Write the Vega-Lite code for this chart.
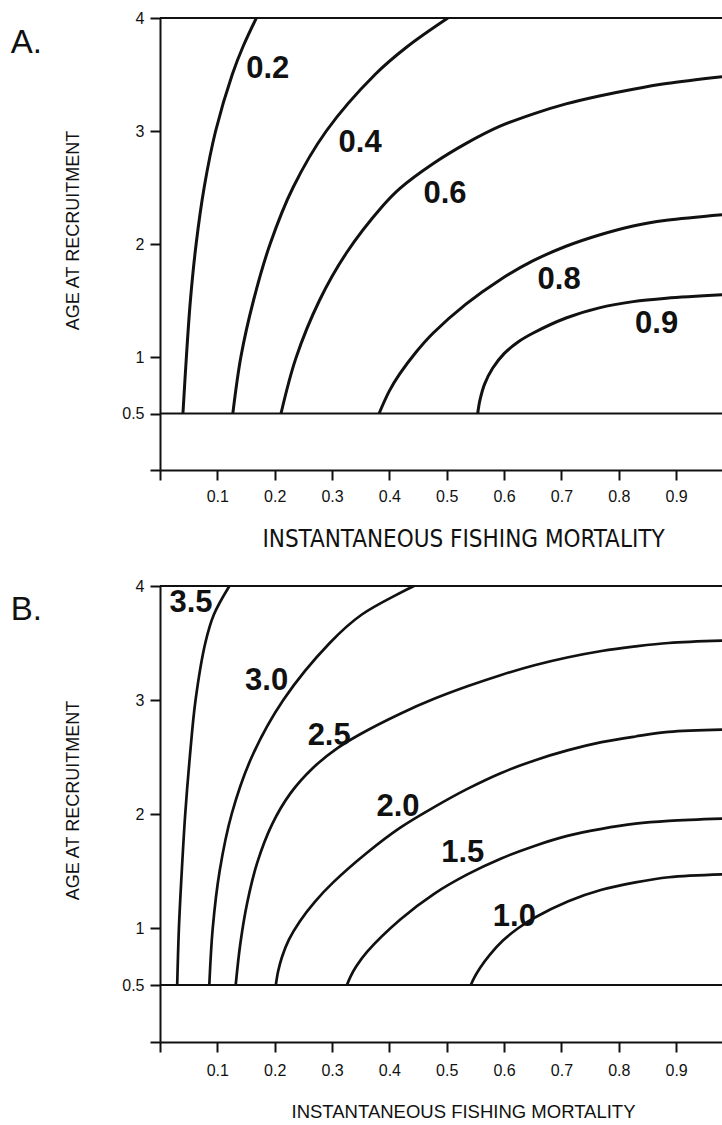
{
  "$schema": "https://vega.github.io/schema/vega-lite/v6.json",
  "background": "white",
  "padding": {"left": 10, "top": 10, "right": 0, "bottom": 0},
  "spacing": 116,
  "bounds": "flush",
  "config": {
    "view": {"stroke": null},
    "axis": {
      "domainColor": "#111", "domainWidth": 2,
      "tickColor": "#111", "tickWidth": 2, "tickSize": 10,
      "labelColor": "#111", "labelFont": "Liberation Sans", "labelFontSize": 16,
      "labelFlush": false, "labelOverlap": false, "grid": false,
      "titleColor": "#111", "titleFontWeight": "normal"
    }
  },
  "datasets": {
    "rules": [{"age": 4}, {"age": 0.5}],
    "a_curves": [
      {"level": "0.2", "f": 0.040, "age": 0.5}, {"level": "0.2", "f": 0.046, "age": 1.0}, {"level": "0.2", "f": 0.053, "age": 1.5}, {"level": "0.2", "f": 0.063, "age": 2.0}, {"level": "0.2", "f": 0.077, "age": 2.5}, {"level": "0.2", "f": 0.097, "age": 3.0}, {"level": "0.2", "f": 0.126, "age": 3.5}, {"level": "0.2", "f": 0.145, "age": 3.75}, {"level": "0.2", "f": 0.168, "age": 4.0},
      {"level": "0.4", "f": 0.127, "age": 0.5}, {"level": "0.4", "f": 0.141, "age": 1.0}, {"level": "0.4", "f": 0.163, "age": 1.5}, {"level": "0.4", "f": 0.192, "age": 2.0}, {"level": "0.4", "f": 0.232, "age": 2.5}, {"level": "0.4", "f": 0.290, "age": 3.0}, {"level": "0.4", "f": 0.375, "age": 3.5}, {"level": "0.4", "f": 0.432, "age": 3.75}, {"level": "0.4", "f": 0.502, "age": 4.0},
      {"level": "0.6", "f": 0.211, "age": 0.5}, {"level": "0.6", "f": 0.237, "age": 0.99}, {"level": "0.6", "f": 0.278, "age": 1.5}, {"level": "0.6", "f": 0.325, "age": 1.92}, {"level": "0.6", "f": 0.389, "age": 2.34}, {"level": "0.6", "f": 0.418, "age": 2.49}, {"level": "0.6", "f": 0.476, "age": 2.71}, {"level": "0.6", "f": 0.534, "age": 2.89}, {"level": "0.6", "f": 0.592, "age": 3.04}, {"level": "0.6", "f": 0.650, "age": 3.15}, {"level": "0.6", "f": 0.708, "age": 3.24}, {"level": "0.6", "f": 0.766, "age": 3.31}, {"level": "0.6", "f": 0.825, "age": 3.37}, {"level": "0.6", "f": 0.883, "age": 3.42}, {"level": "0.6", "f": 0.980, "age": 3.48},
      {"level": "0.8", "f": 0.382, "age": 0.5}, {"level": "0.8", "f": 0.400, "age": 0.70}, {"level": "0.8", "f": 0.418, "age": 0.85}, {"level": "0.8", "f": 0.446, "age": 1.04}, {"level": "0.8", "f": 0.476, "age": 1.21}, {"level": "0.8", "f": 0.534, "age": 1.47}, {"level": "0.8", "f": 0.592, "age": 1.68}, {"level": "0.8", "f": 0.650, "age": 1.85}, {"level": "0.8", "f": 0.708, "age": 1.98}, {"level": "0.8", "f": 0.766, "age": 2.08}, {"level": "0.8", "f": 0.825, "age": 2.16}, {"level": "0.8", "f": 0.883, "age": 2.21}, {"level": "0.8", "f": 0.980, "age": 2.26},
      {"level": "0.9", "f": 0.554, "age": 0.5}, {"level": "0.9", "f": 0.558, "age": 0.62}, {"level": "0.9", "f": 0.566, "age": 0.76}, {"level": "0.9", "f": 0.580, "age": 0.90}, {"level": "0.9", "f": 0.600, "age": 1.03}, {"level": "0.9", "f": 0.625, "age": 1.135}, {"level": "0.9", "f": 0.650, "age": 1.21}, {"level": "0.9", "f": 0.708, "age": 1.345}, {"level": "0.9", "f": 0.766, "age": 1.435}, {"level": "0.9", "f": 0.825, "age": 1.49}, {"level": "0.9", "f": 0.883, "age": 1.52}, {"level": "0.9", "f": 0.980, "age": 1.55}
    ],
    "a_labels": [
      {"label": "0.2", "f": 0.188, "age": 3.55},
      {"label": "0.4", "f": 0.349, "age": 2.89},
      {"label": "0.6", "f": 0.497, "age": 2.44},
      {"label": "0.8", "f": 0.696, "age": 1.68},
      {"label": "0.9", "f": 0.866, "age": 1.29}
    ],
    "b_curves": [
      {"level": "3.5", "f": 0.030, "age": 0.5}, {"level": "3.5", "f": 0.033, "age": 1.0}, {"level": "3.5", "f": 0.038, "age": 1.5}, {"level": "3.5", "f": 0.044, "age": 2.0}, {"level": "3.5", "f": 0.052, "age": 2.5}, {"level": "3.5", "f": 0.062, "age": 3.0}, {"level": "3.5", "f": 0.079, "age": 3.5}, {"level": "3.5", "f": 0.094, "age": 3.75}, {"level": "3.5", "f": 0.121, "age": 4.0},
      {"level": "3.0", "f": 0.086, "age": 0.5}, {"level": "3.0", "f": 0.092, "age": 1.0}, {"level": "3.0", "f": 0.104, "age": 1.5}, {"level": "3.0", "f": 0.125, "age": 2.0}, {"level": "3.0", "f": 0.160, "age": 2.5}, {"level": "3.0", "f": 0.215, "age": 3.0}, {"level": "3.0", "f": 0.296, "age": 3.5}, {"level": "3.0", "f": 0.352, "age": 3.75}, {"level": "3.0", "f": 0.443, "age": 4.0},
      {"level": "2.5", "f": 0.132, "age": 0.5}, {"level": "2.5", "f": 0.140, "age": 0.86}, {"level": "2.5", "f": 0.152, "age": 1.22}, {"level": "2.5", "f": 0.170, "age": 1.58}, {"level": "2.5", "f": 0.195, "age": 1.905}, {"level": "2.5", "f": 0.228, "age": 2.185}, {"level": "2.5", "f": 0.268, "age": 2.41}, {"level": "2.5", "f": 0.310, "age": 2.58}, {"level": "2.5", "f": 0.349, "age": 2.70}, {"level": "2.5", "f": 0.419, "age": 2.88}, {"level": "2.5", "f": 0.478, "age": 3.01}, {"level": "2.5", "f": 0.536, "age": 3.12}, {"level": "2.5", "f": 0.595, "age": 3.22}, {"level": "2.5", "f": 0.653, "age": 3.305}, {"level": "2.5", "f": 0.712, "age": 3.375}, {"level": "2.5", "f": 0.770, "age": 3.43}, {"level": "2.5", "f": 0.829, "age": 3.47}, {"level": "2.5", "f": 0.887, "age": 3.50}, {"level": "2.5", "f": 0.980, "age": 3.52},
      {"level": "2.0", "f": 0.202, "age": 0.5}, {"level": "2.0", "f": 0.206, "age": 0.62}, {"level": "2.0", "f": 0.213, "age": 0.75}, {"level": "2.0", "f": 0.225, "age": 0.90}, {"level": "2.0", "f": 0.244, "age": 1.06}, {"level": "2.0", "f": 0.270, "age": 1.23}, {"level": "2.0", "f": 0.302, "age": 1.40}, {"level": "2.0", "f": 0.361, "age": 1.66}, {"level": "2.0", "f": 0.419, "age": 1.88}, {"level": "2.0", "f": 0.478, "age": 2.06}, {"level": "2.0", "f": 0.536, "age": 2.22}, {"level": "2.0", "f": 0.595, "age": 2.36}, {"level": "2.0", "f": 0.653, "age": 2.47}, {"level": "2.0", "f": 0.712, "age": 2.56}, {"level": "2.0", "f": 0.770, "age": 2.63}, {"level": "2.0", "f": 0.829, "age": 2.68}, {"level": "2.0", "f": 0.887, "age": 2.72}, {"level": "2.0", "f": 0.980, "age": 2.74},
      {"level": "1.5", "f": 0.326, "age": 0.5}, {"level": "1.5", "f": 0.332, "age": 0.572}, {"level": "1.5", "f": 0.342, "age": 0.662}, {"level": "1.5", "f": 0.361, "age": 0.791}, {"level": "1.5", "f": 0.419, "age": 1.075}, {"level": "1.5", "f": 0.478, "age": 1.30}, {"level": "1.5", "f": 0.536, "age": 1.47}, {"level": "1.5", "f": 0.595, "age": 1.61}, {"level": "1.5", "f": 0.653, "age": 1.72}, {"level": "1.5", "f": 0.712, "age": 1.81}, {"level": "1.5", "f": 0.770, "age": 1.87}, {"level": "1.5", "f": 0.829, "age": 1.915}, {"level": "1.5", "f": 0.887, "age": 1.94}, {"level": "1.5", "f": 0.980, "age": 1.96},
      {"level": "1.0", "f": 0.542, "age": 0.5}, {"level": "1.0", "f": 0.548, "age": 0.565}, {"level": "1.0", "f": 0.558, "age": 0.65}, {"level": "1.0", "f": 0.575, "age": 0.765}, {"level": "1.0", "f": 0.598, "age": 0.89}, {"level": "1.0", "f": 0.625, "age": 1.0}, {"level": "1.0", "f": 0.653, "age": 1.09}, {"level": "1.0", "f": 0.712, "age": 1.235}, {"level": "1.0", "f": 0.770, "age": 1.335}, {"level": "1.0", "f": 0.829, "age": 1.40}, {"level": "1.0", "f": 0.887, "age": 1.445}, {"level": "1.0", "f": 0.980, "age": 1.47}
    ],
    "b_labels": [
      {"label": "3.5", "f": 0.054, "age": 3.85},
      {"label": "3.0", "f": 0.186, "age": 3.17},
      {"label": "2.5", "f": 0.295, "age": 2.68},
      {"label": "2.0", "f": 0.415, "age": 2.06},
      {"label": "1.5", "f": 0.528, "age": 1.66},
      {"label": "1.0", "f": 0.618, "age": 1.10}
    ]
  },
  "vconcat": [
    {
      "width": 562,
      "height": 452,
      "title": {"text": "A.", "orient": "left", "anchor": "end", "angle": 0, "frame": "group", "offset": -9, "dy": 35, "baseline": "alphabetic", "font": "Liberation Sans", "fontSize": 33, "fontWeight": "normal", "color": "#111"},
      "layer": [
        {
          "data": {"name": "rules"},
          "mark": {"type": "rule", "strokeWidth": 2, "color": "#111"},
          "encoding": {"y": {"field": "age", "type": "quantitative", "scale": {"domain": [0, 4], "nice": false, "zero": false}}}
        },
        {
          "data": {"name": "a_curves"},
          "mark": {"type": "line", "interpolate": "catmull-rom", "strokeWidth": 3, "color": "#111", "clip": true},
          "encoding": {
            "x": {"field": "f", "type": "quantitative", "scale": {"domain": [0, 0.98], "nice": false, "zero": false},
              "axis": {"title": "INSTANTANEOUS FISHING MORTALITY", "values": [0, 0.1, 0.2, 0.3, 0.4, 0.5, 0.6, 0.7, 0.8, 0.9], "format": ".1f", "labelExpr": "datum.value == 0 ? '' : datum.label", "labelBaseline": "middle", "labelPadding": 16, "labelFontSize": 16, "titleFont": "DejaVu Sans Condensed", "titleFontSize": 24, "titleX": 303, "titleY": 69, "titleBaseline": "middle"}},
            "y": {"field": "age", "type": "quantitative", "scale": {"domain": [0, 4], "nice": false, "zero": false},
              "axis": {"title": "AGE AT RECRUITMENT", "values": [0, 0.5, 1, 2, 3, 4], "format": "~g", "labelExpr": "datum.value == 0 ? '' : datum.label", "labelPadding": 6, "labelFontSize": 16, "titleFont": "Liberation Sans", "titleFontSize": 18, "titleX": -87, "titleY": 212, "titleBaseline": "middle"}},
            "detail": {"field": "level", "type": "nominal"}
          }
        },
        {
          "data": {"name": "a_labels"},
          "mark": {"type": "text", "font": "Liberation Sans", "fontSize": 31, "fontWeight": "bold", "color": "#111", "align": "center", "baseline": "middle"},
          "encoding": {
            "x": {"field": "f", "type": "quantitative"},
            "y": {"field": "age", "type": "quantitative"},
            "text": {"field": "label", "type": "nominal"}
          }
        }
      ]
    },
    {
      "width": 562,
      "height": 456,
      "title": {"text": "B.", "orient": "left", "anchor": "end", "angle": 0, "frame": "group", "offset": -9, "dy": 34, "baseline": "alphabetic", "font": "Liberation Sans", "fontSize": 33, "fontWeight": "normal", "color": "#111"},
      "layer": [
        {
          "data": {"name": "rules"},
          "mark": {"type": "rule", "strokeWidth": 2, "color": "#111"},
          "encoding": {"y": {"field": "age", "type": "quantitative", "scale": {"domain": [0, 4], "nice": false, "zero": false}}}
        },
        {
          "data": {"name": "b_curves"},
          "mark": {"type": "line", "interpolate": "catmull-rom", "strokeWidth": 2.7, "color": "#111", "clip": true},
          "encoding": {
            "x": {"field": "f", "type": "quantitative", "scale": {"domain": [0, 0.98], "nice": false, "zero": false},
              "axis": {"title": "INSTANTANEOUS FISHING MORTALITY", "values": [0, 0.1, 0.2, 0.3, 0.4, 0.5, 0.6, 0.7, 0.8, 0.9], "format": ".1f", "labelExpr": "datum.value == 0 ? '' : datum.label", "labelBaseline": "middle", "labelPadding": 18, "labelFontSize": 16, "titleFont": "Liberation Sans", "titleFontSize": 18.5, "titleX": 303, "titleY": 69, "titleBaseline": "middle"}},
            "y": {"field": "age", "type": "quantitative", "scale": {"domain": [0, 4], "nice": false, "zero": false},
              "axis": {"title": "AGE AT RECRUITMENT", "values": [0, 0.5, 1, 2, 3, 4], "format": "~g", "labelExpr": "datum.value == 0 ? '' : datum.label", "labelPadding": 6, "labelFontSize": 16, "titleFont": "Liberation Sans", "titleFontSize": 18, "titleX": -87, "titleY": 214, "titleBaseline": "middle"}},
            "detail": {"field": "level", "type": "nominal"}
          }
        },
        {
          "data": {"name": "b_labels"},
          "mark": {"type": "text", "font": "Liberation Sans", "fontSize": 31, "fontWeight": "bold", "color": "#111", "align": "center", "baseline": "middle"},
          "encoding": {
            "x": {"field": "f", "type": "quantitative"},
            "y": {"field": "age", "type": "quantitative"},
            "text": {"field": "label", "type": "nominal"}
          }
        }
      ]
    }
  ]
}
